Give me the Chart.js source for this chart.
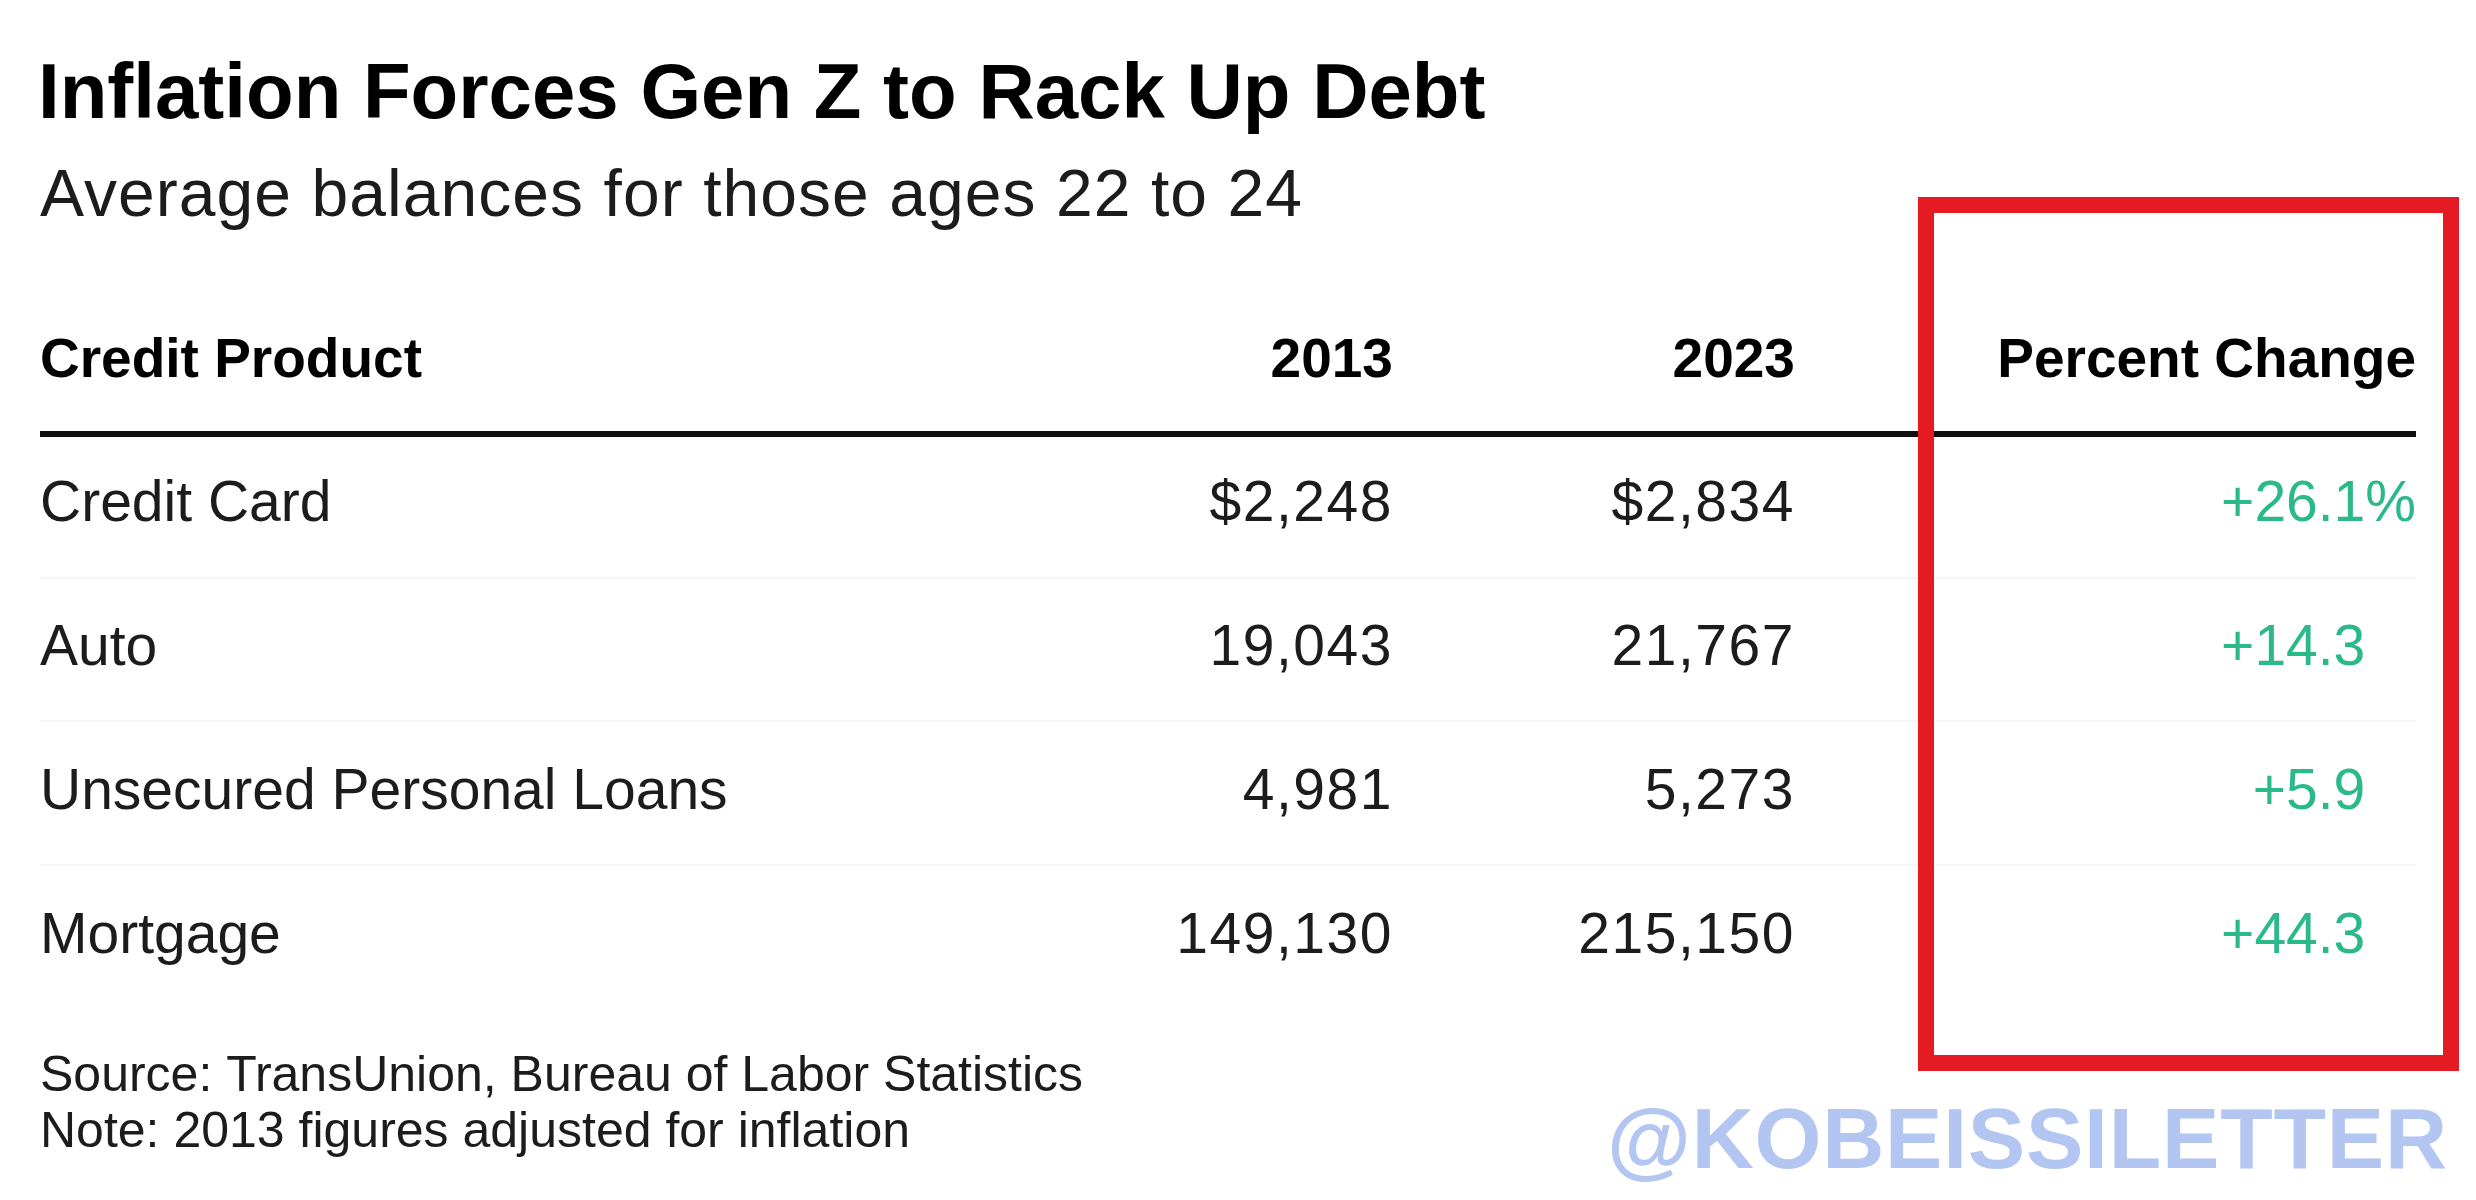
<!DOCTYPE html>
<html>
<head>
<meta charset="utf-8">
<title>Inflation Forces Gen Z to Rack Up Debt</title>
<script src="https://cdn.jsdelivr.net/npm/chart.js@4.4.1/dist/chart.umd.min.js"></script>
<style>
  html, body { margin: 0; padding: 0; background: #ffffff; }
  #wrap { width: 2476px; height: 1200px; position: relative; }
</style>
</head>
<body>
<div id="wrap"><canvas id="debtTable"></canvas></div>
<script>
// table data
const columnLabels = ["Credit Product", "2013", "2023", "Percent Change"];
const products = ["Credit Card", "Auto", "Unsecured Personal Loans", "Mortgage"];
const balance2013 = [2248, 19043, 4981, 149130];
const balance2023 = [2834, 21767, 5273, 215150];
const percentChange = [26.1, 14.3, 5.9, 44.3];

const titleText = "Inflation Forces Gen Z to Rack Up Debt";
const subtitleText = "Average balances for those ages 22 to 24";
const sourceText = "Source: TransUnion, Bureau of Labor Statistics";
const noteText = "Note: 2013 figures adjusted for inflation";
const watermarkText = "@KOBEISSILETTER";

const FONT = '"Liberation Sans", Arial, Helvetica, sans-serif';
const INK = "#1c1c1c";
const GREEN = "#2cb98a";

function withCommas(v) {
    return String(v).replace(/\B(?=(\d{3})+(?!\d))/g, ",");
}

// draw text stretched to a target width (the source uses looser tracking)
function spacedText(ctx, text, x, y, targetWidth) {
    const w = ctx.measureText(text).width;
    if (!targetWidth || text.length < 2) { ctx.fillText(text, x, y); return; }
    if ("letterSpacing" in ctx) {
        ctx.letterSpacing = ((targetWidth - w) / (text.length - 1)) + "px";
        ctx.fillText(text, x, y);
        ctx.letterSpacing = "0px";
    } else {
        ctx.save();
        ctx.translate(x, y);
        ctx.scale(targetWidth / w, 1);
        ctx.fillText(text, 0, 0);
        ctx.restore();
    }
}

// headings, footnotes, watermark
const framePlugin = {
    id: "frame",
    afterDraw(chart) {
        const ctx = chart.ctx;
        ctx.save();
        ctx.textAlign = "left";
        ctx.textBaseline = "alphabetic";

        ctx.fillStyle = "#000000";
        ctx.font = "bold 78px " + FONT;
        ctx.fillText(titleText, 38, 118);

        ctx.fillStyle = INK;
        ctx.font = "66px " + FONT;
        spacedText(ctx, subtitleText, 40, 216, 1262);

        ctx.font = "50px " + FONT;
        ctx.fillText(sourceText, 40, 1091);
        ctx.fillText(noteText, 40, 1147);

        ctx.fillStyle = "#b3c5f1";
        ctx.font = "bold 86px " + FONT;
        spacedText(ctx, watermarkText, 1607, 1168, 840);
        ctx.restore();
    }
};

// value cells, placed on the rows of the category scale
const cellsPlugin = {
    id: "cells",
    afterDraw(chart, args, opts) {
        const { ctx, chartArea: area, scales: { y } } = chart;
        const colX = opts.columnEdges.map(f => area.left + f * (area.right - area.left));
        ctx.save();
        ctx.textBaseline = "middle";
        ctx.textAlign = "right";

        // header
        ctx.fillStyle = "#000000";
        ctx.font = "bold 55px " + FONT;
        const yHead = y.getPixelForValue(0);
        for (let c = 1; c < columnLabels.length; c++) {
            ctx.fillText(columnLabels[c], colX[c - 1], yHead);
        }

        ctx.font = "57px " + FONT;
        const pctW = ctx.measureText("%").width;
        products.forEach((p, i) => {
            const yy = y.getPixelForValue(i + 1);
            ctx.fillStyle = INK;
            if ("letterSpacing" in ctx) ctx.letterSpacing = "1.5px";
            ctx.fillText((i === 0 ? "$" : "") + withCommas(balance2013[i]), colX[0], yy);
            ctx.fillText((i === 0 ? "$" : "") + withCommas(balance2023[i]), colX[1], yy);
            if ("letterSpacing" in ctx) ctx.letterSpacing = "0px";
            ctx.fillStyle = GREEN;
            const txt = "+" + percentChange[i].toFixed(1);
            if (i === 0) ctx.fillText(txt + "%", colX[2], yy);
            else ctx.fillText(txt, colX[2] - pctW, yy);
        });

        // red highlight box around the percent column
        ctx.strokeStyle = "#e41b23";
        ctx.lineWidth = 16;
        ctx.strokeRect(1926, 205, 525, 858);
        ctx.restore();
    }
};

const rowLabels = [columnLabels[0]].concat(products);

new Chart(document.getElementById("debtTable"), {
    type: "bar",
    data: {
        labels: rowLabels,
        datasets: [
            { label: columnLabels[1], data: [null].concat(balance2013), backgroundColor: "rgba(0,0,0,0)" },
            { label: columnLabels[2], data: [null].concat(balance2023), backgroundColor: "rgba(0,0,0,0)" },
            { label: columnLabels[3], data: [null].concat(percentChange), backgroundColor: "rgba(0,0,0,0)" }
        ]
    },
    options: {
        indexAxis: "y",
        responsive: true,
        maintainAspectRatio: false,
        animation: false,
        events: [],
        layout: { padding: { top: 290, bottom: 191, left: 40, right: 60 } },
        plugins: {
            legend: { display: false },
            tooltip: { enabled: false },
            title: { display: false },
            cells: { columnEdges: [0.5694, 0.7386, 1.0] }
        },
        scales: {
            x: { display: false, min: 0 },
            y: {
                type: "category",
                offset: true,
                border: { display: false },
                grid: {
                    offset: true,
                    drawTicks: false,
                    color: c => c.index === 1 ? "#111111" : (c.index > 1 && c.index < rowLabels.length ? "#f6f6f6" : "rgba(0,0,0,0)"),
                    lineWidth: c => c.index === 1 ? 6 : 2
                },
                ticks: {
                    mirror: true,
                    padding: 0,
                    crossAlign: "near",
                    autoSkip: false,
                    color: c => c.index === 0 ? "#000000" : INK,
                    font: c => c.index === 0
                        ? { family: FONT, size: 55, weight: "bold" }
                        : { family: FONT, size: 57, weight: "normal" }
                }
            }
        }
    },
    plugins: [framePlugin, cellsPlugin]
});
</script>
</body>
</html>
